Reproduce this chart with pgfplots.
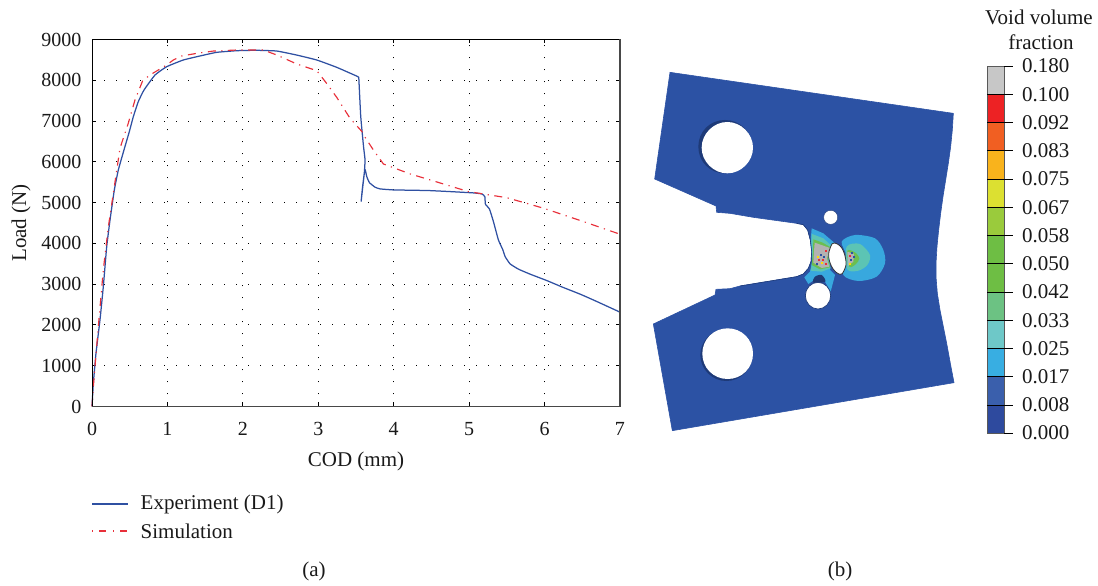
\documentclass[border=0pt]{standalone}
\usepackage{pgfplots}
\pgfplotsset{compat=1.18}
\usepackage{fontspec}
\setmainfont{Liberation Serif}
\newcommand{\fA}{\fontsize{21}{24}\selectfont}
\newcommand{\fT}{\fontsize{20}{23}\selectfont}
\definecolor{expblue}{HTML}{2F50A2}
\definecolor{simred}{HTML}{E8303A}
\definecolor{plate}{HTML}{2C52A4}
\definecolor{shadowb}{HTML}{1E3A78}
\definecolor{lb}{HTML}{38A8DE}
\definecolor{tl}{HTML}{5CC4B4}
\definecolor{gr}{HTML}{6CBE50}
\begin{document}
\begin{tikzpicture}[x=1pt,y=1pt]
\useasboundingbox (0,0) rectangle (1098,586);
% ---------- load curve
\begin{axis}[
  at={(92pt,179.5pt)},anchor=south west,scale only axis,width=528pt,height=367pt,
  xmin=0,xmax=7,ymin=0,ymax=9000,
  xtick={0,1,2,3,4,5,6,7},ytick={0,1000,2000,3000,4000,5000,6000,7000,8000,9000},
  /pgf/number format/assume math mode=true,
  /pgf/number format/1000 sep={},
  ticklabel style={font=\fT,text=black!90},
  xticklabel style={yshift=-12pt},
  yticklabel style={xshift=-7pt},
  tick style={black,line width=0.9pt},
  major tick length=4pt,
  tick align=inside,
  axis line style={draw=none},
  grid=major,
  grid style={black,line width=1pt,dash pattern=on 1pt off 11pt},
  clip=false,
]
\addplot[expblue,line width=1.25pt,smooth,tension=0.25] coordinates {
(0,0)(0.018,572)(0.053,1307)(0.106,2124)(0.15,2941)(0.195,3922)(0.239,4575)(0.296,5310)(0.349,5800)(0.424,6291)
(0.495,6742)(0.548,7108)(0.614,7477)(0.69,7763)(0.836,8130)(0.99,8333)(1.21,8497)(1.432,8596)(1.653,8685)
(1.919,8725)(2.18,8735)(2.45,8717)(2.71,8620)(2.98,8497)(3.245,8317)(3.50,8110)(3.535,8075)(3.54,7950)(3.563,7108)(3.6,6373)(3.62,6046)
(3.61,5720)(3.59,5394)(3.568,5025)(3.585,5350)(3.61,5720)(3.625,5785)(3.643,5637)(3.678,5490)(3.753,5378)(3.82,5336)
(3.996,5311)(4.26,5303)(4.483,5294)(4.748,5270)(5.057,5238)(5.168,5213)(5.208,5147)(5.216,4960)(5.269,4846)(5.322,4534)
(5.388,4085)(5.447,3841)(5.477,3676)(5.543,3497)(5.654,3368)(5.809,3245)(6.03,3088)(6.25,2917)(6.472,2755)(6.693,2574)(7,2314)};
\addplot[simred,line width=1.15pt,dash pattern=on 8pt off 5.5pt on 1.2pt off 5.5pt] coordinates {
(0,0)(0.018,490)(0.084,1960)(0.15,3350)(0.217,4410)(0.283,5230)(0.371,6333)(0.481,6946)(0.57,7517)(0.672,7990)
(0.769,8130)(0.99,8375)(1.078,8497)(1.19,8596)(1.388,8660)(1.61,8717)(1.92,8742)(2.27,8742)(2.45,8620)(2.714,8400)(2.98,8235)
(3.11,7925)(3.245,7580)(3.42,7070)(3.58,6740)(3.62,6603)(3.73,6292)(3.863,5948)(4.218,5703)(4.483,5556)(4.99,5270)
(5.5,5120)(5.987,4862)(6.516,4534)(7,4225)};
\draw[black,line width=0.9pt] (rel axis cs:0,0)--(rel axis cs:0,1)--(rel axis cs:1,1);
\draw[black!72,line width=1.8pt] (rel axis cs:0,0)--(rel axis cs:1,0)--(rel axis cs:1,1);
\end{axis}
% ---------- specimen, in its own drawing coordinates
\begin{axis}[
  at={(640pt,146pt)},anchor=south west,scale only axis,width=330pt,height=380pt,
  xmin=0,xmax=990,ymin=0,ymax=1140,y dir=reverse,hide axis,clip=false]
\addplot[fill=plate,draw=plate,line width=0.6pt] coordinates {
(90,37)(940,160)(937,210)(932,260)(925,310)(917,360)(909,410)(902,460)(896,510)(891,560)(888,610)(888,650)(892,700)(900,750)(910,800)(920,850)(931,910)(942,968)(97,1112)(40,792)
(225,705)(228,688)(270,686)(300,678)(470,650)(490,642)(505,625)(513,605)(515,575)(511,540)(503,510)(490,494)(470,490)(340,472)(270,460)(230,457)(228,438)(44,357)} --cycle;
% contour bands
\addplot[fill=lb,draw=none,smooth cycle] coordinates {(605,545)(645,525)(705,535)(730,570)(735,610)(710,650)(655,663)(610,645)(620,590)};
\addplot[fill=tl,draw=none,smooth cycle] coordinates {(620,560)(660,552)(690,585)(682,615)(655,632)(622,628)};
\addplot[fill=gr,draw=none,smooth cycle] coordinates {(622,572)(645,577)(658,595)(648,612)(628,620)};
\addplot[fill=lb,draw=none] coordinates {(515,505)(550,520)(585,550)(570,590)(570,630)(585,645)(572,695)(555,665)(535,645)(520,662)(505,672)(493,652)(510,635)(517,600)(512,540)} --cycle;
\addplot[fill=plate!70!black,draw=none,smooth cycle] coordinates {(525,650)(545,645)(556,665)(520,668)};
\addplot[fill=tl,draw=none] coordinates {(516,522)(550,535)(575,558)(565,600)(572,625)(545,635)(512,632)(518,600)(514,545)} --cycle;
\addplot[fill=gr,draw=none] coordinates {(520,538)(548,548)(572,562)(563,595)(570,622)(540,628)(515,615)(519,580)} --cycle;
\addplot[fill=black!30,draw=none] coordinates {(524,548)(570,564)(561,595)(568,620)(545,624)(520,608)(522,575)} --cycle;
\addplot[fill=black!30,draw=none] coordinates {(622,575)(642,582)(640,605)(624,618)} --cycle;
% speckles
\addplot[only marks,mark=square*,mark size=0.55pt,simred] coordinates {(548,600)(558,572)(536,598)(556,610)(628,588)};
\addplot[only marks,mark=square*,mark size=0.55pt,plate] coordinates {(542,585)(552,590)(632,600)(640,590)(636,578)(530,610)};
\addplot[only marks,mark=square*,mark size=0.55pt,yellow!80!orange] coordinates {(545,608)(534,590)(630,610)};
% holes with their shadows
\addplot[fill=shadowb,draw=none,smooth cycle,tension=0.68] coordinates {(335,260)(312,317)(255,340)(198,317)(175,260)(198,203)(255,180)(312,203)};
\addplot[fill=white,draw=none,smooth cycle,tension=0.68] coordinates {(339,263)(316,317)(262,340)(208,317)(185,263)(208,209)(262,186)(316,209)};
\addplot[fill=shadowb,draw=none,smooth cycle,tension=0.68] coordinates {(337,885)(314,940)(259,963)(204,940)(181,885)(204,830)(259,807)(314,830)};
\addplot[fill=white,draw=none,smooth cycle,tension=0.68] coordinates {(339,881)(317,935)(263,957)(209,935)(187,881)(209,827)(263,805)(317,827)};
\addplot[fill=white,draw=shadowb,line width=0.4pt,smooth cycle,tension=0.68] coordinates {(593,472)(587,487)(572,493)(557,487)(551,472)(557,457)(572,451)(587,457)};
\addplot[fill=white,draw=shadowb,line width=0.7pt,smooth cycle,tension=0.68] coordinates {(572,707)(561,735)(534,747)(507,735)(496,707)(507,679)(534,667)(561,679)};
\addplot[fill=white,draw=black!80,line width=0.8pt,smooth cycle,tension=0.68] coordinates {(618,605)(612,632)(600,643)(578,625)(566,590)(572,560)(583,549)(606,565)};
\addplot[shadowb,line width=0.6pt] coordinates {(470,490)(490,494)(503,510)(511,540)(515,575)(513,605)(505,625)(490,642)(470,650)(300,678)};
\end{axis}
% ---------- colour scale, legend and captions, in picture pixels
\begin{axis}[
  at={(0pt,0pt)},anchor=south west,scale only axis,width=1098pt,height=586pt,
  xmin=0,xmax=1098,ymin=0,ymax=586,y dir=reverse,hide axis,clip=false]
\addplot[fill=black!22,draw=none] coordinates {(987,66)(1004,66)(1004,94.2)(987,94.2)} --cycle;
\addplot[draw=none,fill={rgb,255:red,237;green,34;blue,36}] coordinates {(987,94.2)(1004,94.2)(1004,122.5)(987,122.5)} --cycle;
\addplot[draw=none,fill={rgb,255:red,241;green,95;blue,34}] coordinates {(987,122.5)(1004,122.5)(1004,150.7)(987,150.7)} --cycle;
\addplot[draw=none,fill={rgb,255:red,249;green,179;blue,28}] coordinates {(987,150.7)(1004,150.7)(1004,179)(987,179)} --cycle;
\addplot[draw=none,fill={rgb,255:red,220;green,224;blue,49}] coordinates {(987,179)(1004,179)(1004,207.2)(987,207.2)} --cycle;
\addplot[draw=none,fill={rgb,255:red,154;green,203;blue,60}] coordinates {(987,207.2)(1004,207.2)(1004,235.5)(987,235.5)} --cycle;
\addplot[draw=none,fill={rgb,255:red,110;green,190;blue,68}] coordinates {(987,235.5)(1004,235.5)(1004,263.7)(987,263.7)} --cycle;
\addplot[draw=none,fill={rgb,255:red,110;green,190;blue,68}] coordinates {(987,263.7)(1004,263.7)(1004,292)(987,292)} --cycle;
\addplot[draw=none,fill={rgb,255:red,108;green,194;blue,131}] coordinates {(987,292)(1004,292)(1004,320.2)(987,320.2)} --cycle;
\addplot[draw=none,fill={rgb,255:red,110;green,200;blue,200}] coordinates {(987,320.2)(1004,320.2)(1004,348.5)(987,348.5)} --cycle;
\addplot[draw=none,fill={rgb,255:red,56;green,174;blue,226}] coordinates {(987,348.5)(1004,348.5)(1004,376.7)(987,376.7)} --cycle;
\addplot[draw=none,fill={rgb,255:red,58;green,95;blue,172}] coordinates {(987,376.7)(1004,376.7)(1004,405)(987,405)} --cycle;
\addplot[draw=none,fill={rgb,255:red,46;green,74;blue,158}] coordinates {(987,405)(1004,405)(1004,433)(987,433)} --cycle;
% cell edges and ticks
\addplot[black!65,line width=0.9pt] coordinates {(987,66)(1004,66)(1004,433)(987,433)} --cycle;
\addplot[black,line width=0.7pt] coordinates {(987,94.2)(1013,94.2)};
\addplot[black,line width=0.7pt] coordinates {(987,122.5)(1013,122.5)};
\addplot[black,line width=0.7pt] coordinates {(987,150.7)(1013,150.7)};
\addplot[black,line width=0.7pt] coordinates {(987,179)(1013,179)};
\addplot[black,line width=0.7pt] coordinates {(987,207.2)(1013,207.2)};
\addplot[black,line width=0.7pt] coordinates {(987,235.5)(1013,235.5)};
\addplot[black,line width=0.7pt] coordinates {(987,263.7)(1013,263.7)};
\addplot[black,line width=0.7pt] coordinates {(987,292)(1013,292)};
\addplot[black,line width=0.7pt] coordinates {(987,320.2)(1013,320.2)};
\addplot[black,line width=0.7pt] coordinates {(987,348.5)(1013,348.5)};
\addplot[black,line width=0.7pt] coordinates {(987,376.7)(1013,376.7)};
\addplot[black,line width=0.7pt] coordinates {(987,405)(1013,405)};
\addplot[black,line width=0.7pt] coordinates {(1004,66)(1013,66)};
\addplot[black,line width=0.7pt] coordinates {(1004,433)(1013,433)};
% legend samples
\addplot[expblue,line width=1.1pt] coordinates {(92,504)(128,504)};
\addplot[simred,line width=1.1pt,dash pattern=on 1pt off 6pt on 7pt off 7pt] coordinates {(92,531)(128,531)};
\begin{scope}[every node/.style={font=\fA,text=black!90,inner sep=0pt}]
\node[anchor=west] at (axis cs:140.5,504) {Experiment (D1)};
\node[anchor=west] at (axis cs:140.5,531) {Simulation};
\node at (axis cs:356,461) {COD (mm)};
\node[rotate=90] at (axis cs:21,223) {Load (N)};
\node at (axis cs:314,571) {(a)};
\node at (axis cs:840,571) {(b)};
\node at (axis cs:1039,17) {Void volume};
\node at (axis cs:1041,42) {fraction};
\node[anchor=west] at (axis cs:1022,66) {0.180};
\node[anchor=west] at (axis cs:1022,94.2) {0.100};
\node[anchor=west] at (axis cs:1022,122.5) {0.092};
\node[anchor=west] at (axis cs:1022,150.7) {0.083};
\node[anchor=west] at (axis cs:1022,179) {0.075};
\node[anchor=west] at (axis cs:1022,207.2) {0.067};
\node[anchor=west] at (axis cs:1022,235.5) {0.058};
\node[anchor=west] at (axis cs:1022,263.7) {0.050};
\node[anchor=west] at (axis cs:1022,292) {0.042};
\node[anchor=west] at (axis cs:1022,320.2) {0.033};
\node[anchor=west] at (axis cs:1022,348.5) {0.025};
\node[anchor=west] at (axis cs:1022,376.7) {0.017};
\node[anchor=west] at (axis cs:1022,405) {0.008};
\node[anchor=west] at (axis cs:1022,433) {0.000};
\end{scope}
\end{axis}
\end{tikzpicture}
\end{document}
